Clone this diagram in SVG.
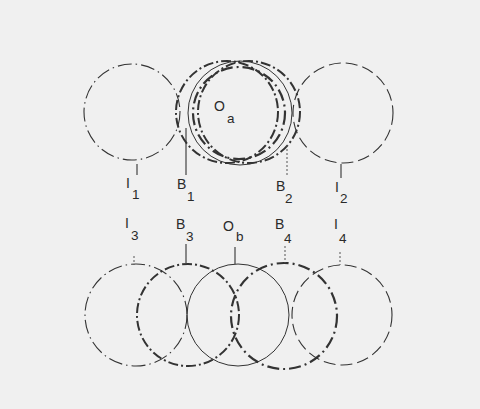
<svg xmlns="http://www.w3.org/2000/svg" width="480" height="409" viewBox="0 0 480 409">
<style>
text{font-family:"Liberation Sans","DejaVu Sans",sans-serif;font-size:14px;fill:#2a2a2a}
.sub{font-size:13.5px}
.c{fill:none;stroke:#333}
.i{stroke-width:1.1;stroke-dasharray:14 4 1.5 4}
.i2{stroke-width:1.1;stroke-dasharray:12 5}
.b{stroke-width:2;stroke-dasharray:10 3 2 3}
.bl{stroke-width:2.2;stroke-dasharray:12 4 2 4}
.o{stroke-width:1}
.ld{stroke:#333;stroke-width:1.1;fill:none}
.dt{stroke:#555;stroke-width:1;stroke-dasharray:2 2;fill:none}
</style>
<rect width="480" height="409" fill="#f0f0f0"/>
<g id="I1"><circle class="c i" cx="132" cy="112" r="48"/><text x="126" y="188">I</text><text class="sub" x="132" y="199">1</text></g>
<g id="B1"><circle class="c b" cx="227" cy="112" r="51"/><text x="177" y="189">B</text><text class="sub" x="187" y="201">1</text></g>
<g id="Oa"><circle class="c o" cx="240" cy="113" r="52"/><circle class="c bl" cx="239" cy="113" r="46"/><text x="214" y="111">O</text><text class="sub" x="227" y="123">a</text></g>
<g id="B2"><circle class="c b" cx="249" cy="112" r="51"/><text x="276" y="191">B</text><text class="sub" x="285" y="203">2</text></g>
<g id="I2"><circle class="c i2" cx="343" cy="113" r="50"/><text x="335" y="192">I</text><text class="sub" x="340" y="203">2</text></g>
<g id="I3"><circle class="c i" cx="136" cy="315" r="51"/><text x="125" y="228">I</text><text class="sub" x="131" y="240">3</text></g>
<g id="B3"><circle class="c b" cx="188" cy="315" r="51"/><text x="176" y="229">B</text><text class="sub" x="186" y="241">3</text></g>
<g id="Ob"><circle class="c o" cx="238" cy="315" r="51"/><text x="223" y="231">O</text><text class="sub" x="236" y="241">b</text></g>
<g id="B4"><circle class="c bl" cx="284" cy="316" r="53"/><text x="275" y="229">B</text><text class="sub" x="284" y="243">4</text></g>
<g id="I4"><circle class="c i2" cx="342" cy="315" r="50"/><text x="334" y="229">I</text><text class="sub" x="339" y="243">4</text></g>
<g id="connectors">
<line class="ld" x1="137" y1="164" x2="137" y2="175"/>
<line class="ld" x1="186" y1="128" x2="186" y2="175"/>
<line class="dt" x1="287" y1="145" x2="287" y2="175"/>
<line class="ld" x1="341" y1="164" x2="341" y2="178"/>
<line class="dt" x1="134" y1="256" x2="134" y2="265"/>
<line class="ld" x1="186" y1="244" x2="186" y2="263"/>
<line class="ld" x1="235" y1="247" x2="235" y2="264"/>
<line class="dt" x1="285" y1="246" x2="285" y2="263"/>
<line class="dt" x1="340" y1="252" x2="340" y2="265"/>
</g>
</svg>
